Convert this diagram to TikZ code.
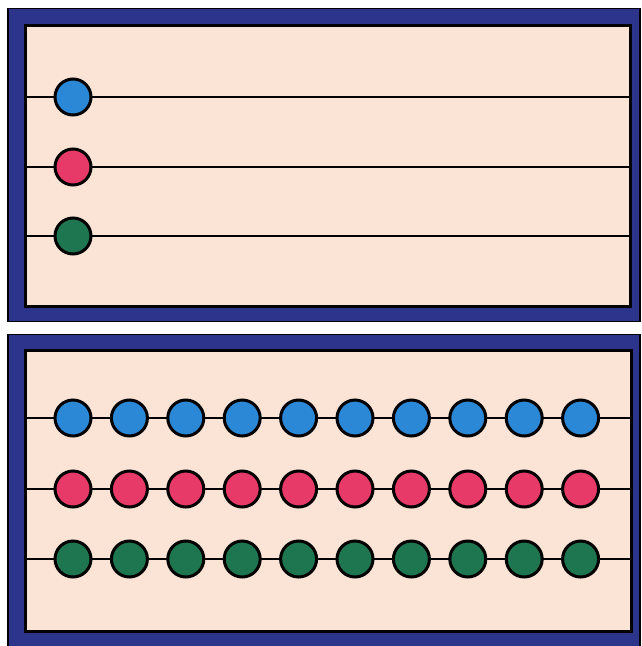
\documentclass[tikz,border=0pt]{standalone}
\definecolor{navy}{RGB}{44,52,140}
\definecolor{paper}{RGB}{251,228,214}
\definecolor{beadblue}{RGB}{42,136,214}
\definecolor{beadred}{RGB}{232,58,104}
\definecolor{beadgreen}{RGB}{30,118,80}
\tikzset{
  outerframe/.style={draw=black,line width=1.5pt,fill=navy},
  innerframe/.style={draw=black,line width=3pt,fill=paper},
  rod/.style={draw=black,line width=2.6pt},
  bead/.style={circle,draw=black,line width=3pt,minimum size=36pt,inner sep=0pt},
}
\begin{document}
\begin{tikzpicture}[x=1pt,y=-1pt]
\useasboundingbox[fill=white] (0,0) rectangle (642,646);
% top frame
\draw[outerframe] (8,8.5) rectangle (640,321.5);
\draw[innerframe] (25,25) rectangle (630.5,306);
% bottom frame
\draw[outerframe] (8,334.5) rectangle (640,652);
\draw[innerframe] (25,350) rectangle (631,631);
% top rods
\foreach \y/\n in {97/a,167/b,236/c}{
  \coordinate (tl\n) at (25,\y);
  \coordinate (tr\n) at (630.5,\y);
  \draw[rod] (tl\n) -- (tr\n);
}
\node[bead,fill=beadblue]  (tb1) at (73,97) {};
\node[bead,fill=beadred]   (tr1) at (73,167) {};
\node[bead,fill=beadgreen] (tg1) at (73,236) {};
% bottom rods
\foreach \y/\n in {418/a,489/b,559/c}{
  \coordinate (bl\n) at (25,\y);
  \coordinate (br\n) at (631,\y);
  \draw[rod] (bl\n) -- (br\n);
}
\foreach \i in {0,...,9}{
  \pgfmathsetmacro{\xx}{73+56.4*\i}
  \node[bead,fill=beadblue]  (bb\i) at (\xx,418) {};
  \node[bead,fill=beadred]   (br\i) at (\xx,489) {};
  \node[bead,fill=beadgreen] (bg\i) at (\xx,559) {};
}
\end{tikzpicture}
\end{document}
